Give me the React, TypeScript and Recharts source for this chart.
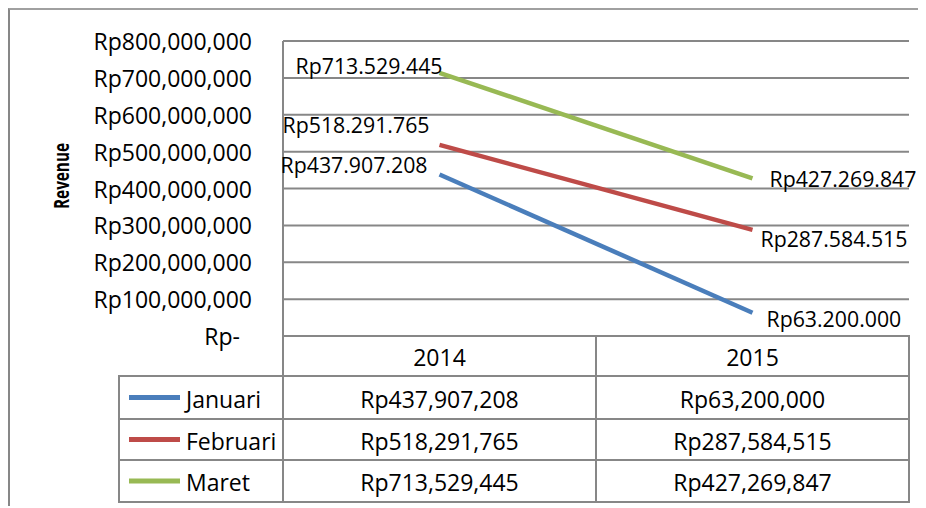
import React from 'react';
import { CartesianGrid, LabelList, Line, LineChart, XAxis, YAxis } from 'recharts';

const years = ['2014', '2015'];
const januari = [437907208, 63200000];
const februari = [518291765, 287584515];
const maret = [713529445, 427269847];
const yTicks = [
  0, 100000000, 200000000, 300000000, 400000000, 500000000, 600000000,
  700000000, 800000000,
];

const FONT = '"Open Sans", sans-serif';
const GRAY = '#878787';

const series = [
  { key: 'januari', name: 'Januari', values: januari, color: '#4A7EBB' },
  { key: 'februari', name: 'Februari', values: februari, color: '#BE4B48' },
  { key: 'maret', name: 'Maret', values: maret, color: '#98B954' },
];

// Excel-ish label placement, [dx, dy] for 2014 and 2015
const labelNudge: Record<string, number[][]> = {
  januari: [[-12, -10], [14, 6]],
  februari: [[-10, -20], [8, 9]],
  maret: [[3, -7], [17, 0]],
};

// layout (px, inside the framed box)
const W = 918;
const H = 498;
const PLOT_LEFT = 275;
const PLOT_RIGHT = 901;
const PLOT_TOP = 33;
const PLOT_BOTTOM = 328;
const CHART_H = 362;
const COL_X = [111, 275, 588, 901];
const ROW_Y = [328, 368, 411, 452, 494];

const chartData = years.map((year, i) => ({
  year,
  januari: januari[i],
  februari: februari[i],
  maret: maret[i],
}));

const fmtComma = (v: number) => `Rp${v.toLocaleString('en-US')}`;
const fmtDot = (v: number) => fmtComma(v).replace(/,/g, '.');

const YTick = (props: any) => {
  const { y, payload } = props;
  const v = payload.value as number;
  return (
    <text
      x={v === 0 ? 232 : 244}
      y={y}
      textAnchor="end"
      dominantBaseline="central"
      fontFamily={FONT}
      fontSize={23}
      fill="#000"
    >
      {v === 0 ? 'Rp-' : fmtComma(v)}
    </text>
  );
};

const makeLabel = (key: string) => (props: any) => {
  const { x, y, value, index } = props;
  const [dx, dy] = labelNudge[key][index];
  return (
    <text
      x={x + dx}
      y={y + dy}
      textAnchor={index === 0 ? 'end' : 'start'}
      dominantBaseline="central"
      fontFamily={FONT}
      fontSize={21.3}
      fill="#000"
    >
      {fmtDot(value)}
    </text>
  );
};

const DataTable = () => {
  const cx1 = (COL_X[1] + COL_X[2]) / 2;
  const cx2 = (COL_X[2] + COL_X[3]) / 2;
  return (
    <svg
      width={W}
      height={H}
      style={{ position: 'absolute', left: 0, top: 0, pointerEvents: 'none' }}
    >
      {/* rotated axis title */}
      <text
        x={53}
        y={168}
        transform="rotate(-90 53 168)"
        textAnchor="middle"
        dominantBaseline="central"
        fontFamily={FONT}
        fontWeight="bold"
        fontSize={20.5}
        textLength={66}
        lengthAdjust="spacingAndGlyphs"
      >
        Revenue
      </text>

      {/* grid of the table */}
      <g stroke={GRAY} strokeWidth={2}>
        <line x1={COL_X[1]} x2={COL_X[3]} y1={ROW_Y[0]} y2={ROW_Y[0]} />
        {ROW_Y.slice(1).map((y) => (
          <line key={y} x1={COL_X[0]} x2={COL_X[3]} y1={y} y2={y} />
        ))}
        <line x1={COL_X[0]} x2={COL_X[0]} y1={ROW_Y[1] - 1} y2={ROW_Y[4] + 1} />
        {COL_X.slice(1).map((x) => (
          <line key={x} x1={x} x2={x} y1={ROW_Y[0] - 1} y2={ROW_Y[4] + 1} />
        ))}
      </g>

      <g fontFamily={FONT} fontSize={23} fill="#000" dominantBaseline="central">
        {years.map((yr, i) => (
          <text
            key={yr}
            x={i === 0 ? cx1 : cx2}
            y={(ROW_Y[0] + ROW_Y[1]) / 2 + 1}
            textAnchor="middle"
          >
            {yr}
          </text>
        ))}
        {series.map((s, r) => {
          const cy = (ROW_Y[r + 1] + ROW_Y[r + 2]) / 2 + 1;
          return (
            <g key={s.key}>
              <line
                x1={121}
                x2={172}
                y1={cy - 1}
                y2={cy - 1}
                stroke={s.color}
                strokeWidth={5}
              />
              <text x={178} y={cy}>
                {s.name}
              </text>
              {s.values.map((v, i) => (
                <text key={i} x={i === 0 ? cx1 : cx2} y={cy} textAnchor="middle">
                  {fmtComma(v)}
                </text>
              ))}
            </g>
          );
        })}
      </g>
    </svg>
  );
};

export default function App() {
  const plotW = PLOT_RIGHT - PLOT_LEFT;
  return (
    <div
      style={{
        position: 'relative',
        width: W,
        height: H,
        borderLeft: `2px solid ${GRAY}`,
        borderTop: `2px solid #a0a0a0`,
        boxSizing: 'border-box',
        background: '#fff',
        overflow: 'hidden',
      }}
    >
      <div style={{ position: 'absolute', left: -2, top: -2 }}>
        <LineChart
          width={W}
          height={CHART_H}
          data={chartData}
          margin={{
            top: PLOT_TOP,
            right: W - PLOT_RIGHT,
            bottom: CHART_H - PLOT_BOTTOM,
            left: 0,
          }}
        >
          <CartesianGrid
            horizontal
            vertical={false}
            stroke={GRAY}
            strokeWidth={2}
          />
          <XAxis
            dataKey="year"
            hide
            padding={{ left: plotW / 4, right: plotW / 4 }}
          />
          <YAxis
            width={PLOT_LEFT}
            domain={[0, 800000000]}
            ticks={yTicks}
            interval={0}
            tickLine={false}
            axisLine={{ stroke: GRAY, strokeWidth: 2 }}
            tick={<YTick />}
          />
          {series.map((s) => (
            <Line
              key={s.key}
              dataKey={s.key}
              name={s.name}
              stroke={s.color}
              strokeWidth={4.5}
              dot={false}
              activeDot={false}
              isAnimationActive={false}
            >
              <LabelList dataKey={s.key} content={makeLabel(s.key)} />
            </Line>
          ))}
        </LineChart>
      </div>
      <div style={{ position: 'absolute', left: -2, top: -2 }}>
        <DataTable />
      </div>
    </div>
  );
}
